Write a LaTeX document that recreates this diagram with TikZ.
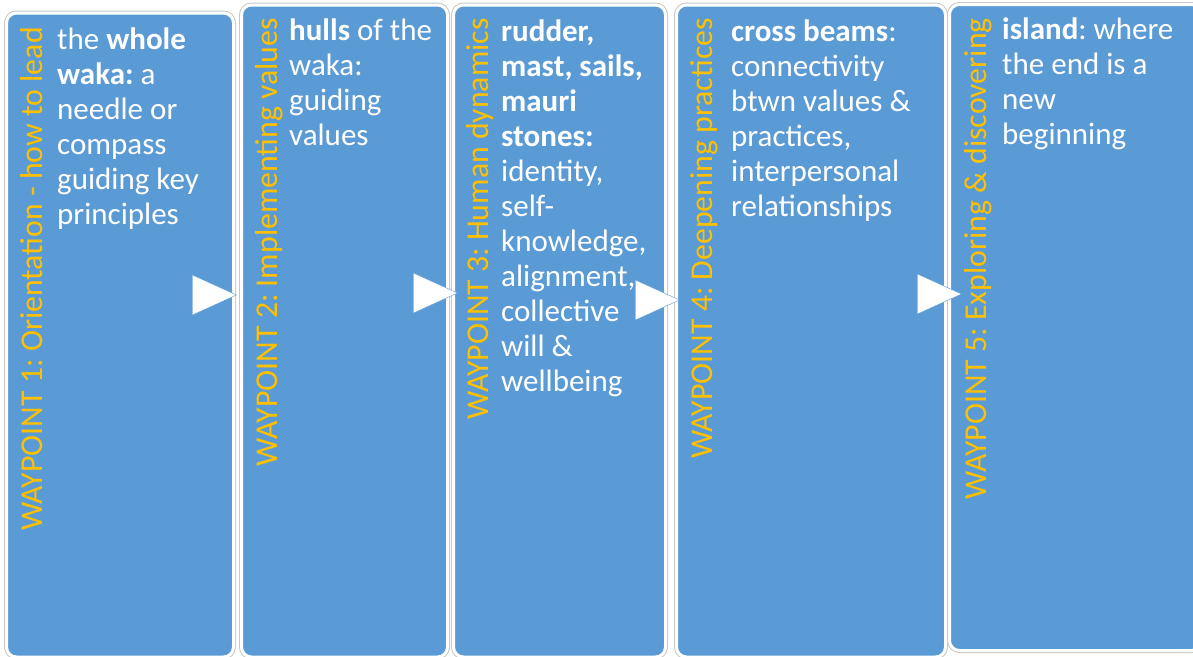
\documentclass[tikz,border=0pt]{standalone}
\usepackage{fontspec}
\setmainfont{Carlito}
\usepackage{tikz}
\usetikzlibrary{shapes.geometric}
\frenchspacing

\definecolor{wpblue}{HTML}{5B9BD5}
\definecolor{wpgold}{HTML}{FFC000}

\tikzset{
	wpbox/.style={rectangle, rounded corners=10pt, fill=wpblue, draw=white, line width=3pt,
		preaction={draw=black!22, line width=5pt}},
	wptitle/.style={rotate=90, anchor=base east, inner sep=0pt, text=wpgold,
		font=\fontsize{31.8}{35}\selectfont},
	wptext/.style={anchor=north west, align=left, inner sep=0pt, text=white,
		font=\fontsize{31}{35}\selectfont},
	wparrow/.style={isosceles triangle, isosceles triangle stretches, fill=white,
		draw=wpblue, line width=0.4pt, inner sep=0pt, minimum width=40pt,
		minimum height=44pt, anchor=apex}
}

\begin{document}
\begin{tikzpicture}[x=1pt, y=-1pt]
	\useasboundingbox (0,0) rectangle (1193,656);
	
	% the five waypoints
	\node[wpbox, minimum width=227pt, minimum height=644pt] (w1) at (120, 335) {};
	\node[wpbox, minimum width=206pt, minimum height=652pt] (w2) at (344.5, 331) {};
	\node[wpbox, minimum width=212pt, minimum height=652pt] (w3) at (559.5, 331) {};
	\node[wpbox, minimum width=269pt, minimum height=652pt] (w4) at (811, 331) {};
	\node[wpbox, minimum width=252pt, minimum height=646pt] (w5) at (1075.5, 327.5) {};
	
	\node[wptitle] (t1) at (42, 27) {WAYPOINT 1: Orientation - how to lead};
	\node[wptitle] (t2) at (277, 18) {WAYPOINT 2: Implementing values};
	\node[wptitle] (t3) at (488, 18) {WAYPOINT 3: Human dynamics};
	\node[wptitle] (t4) at (712, 18) {WAYPOINT 4: Deepening practices};
	\node[wptitle] (t5) at (986, 18) {WAYPOINT 5: Exploring \& discovering};
	
	\node[wptext] (d1) at (57, 28) {the \textbf{whole}\\\textbf{waka:} a\\needle or\\compass\\guiding key\\principles};
	\node[wptext] (d2) at (289, 19) {\textbf{hulls} of the\\waka:\\guiding\\values};
	\node[wptext] (d3) at (501, 20) {\textbf{rudder,}\\\textbf{mast, sails,}\\\textbf{mauri}\\\textbf{stones:}\\identity,\\self-\\knowledge,\\alignment,\\collective\\will \&\\wellbeing};
	\node[wptext] (d4) at (731, 20) {\textbf{cross beams}:\\connectivity\\btwn values \&\\practices,\\interpersonal\\relationships};
	\node[wptext] (d5) at (1002, 18) {\textbf{island}: where\\the end is a\\new\\beginning};
	
	% arrows between waypoints
	\node[wparrow] (a1) at (237, 295) {};
	\node[wparrow] (a2) at (458, 293) {};
	\node[wparrow] (a3) at (680, 300) {};
	\node[wparrow] (a4) at (962, 294) {};
	
\end{tikzpicture}
\end{document}
